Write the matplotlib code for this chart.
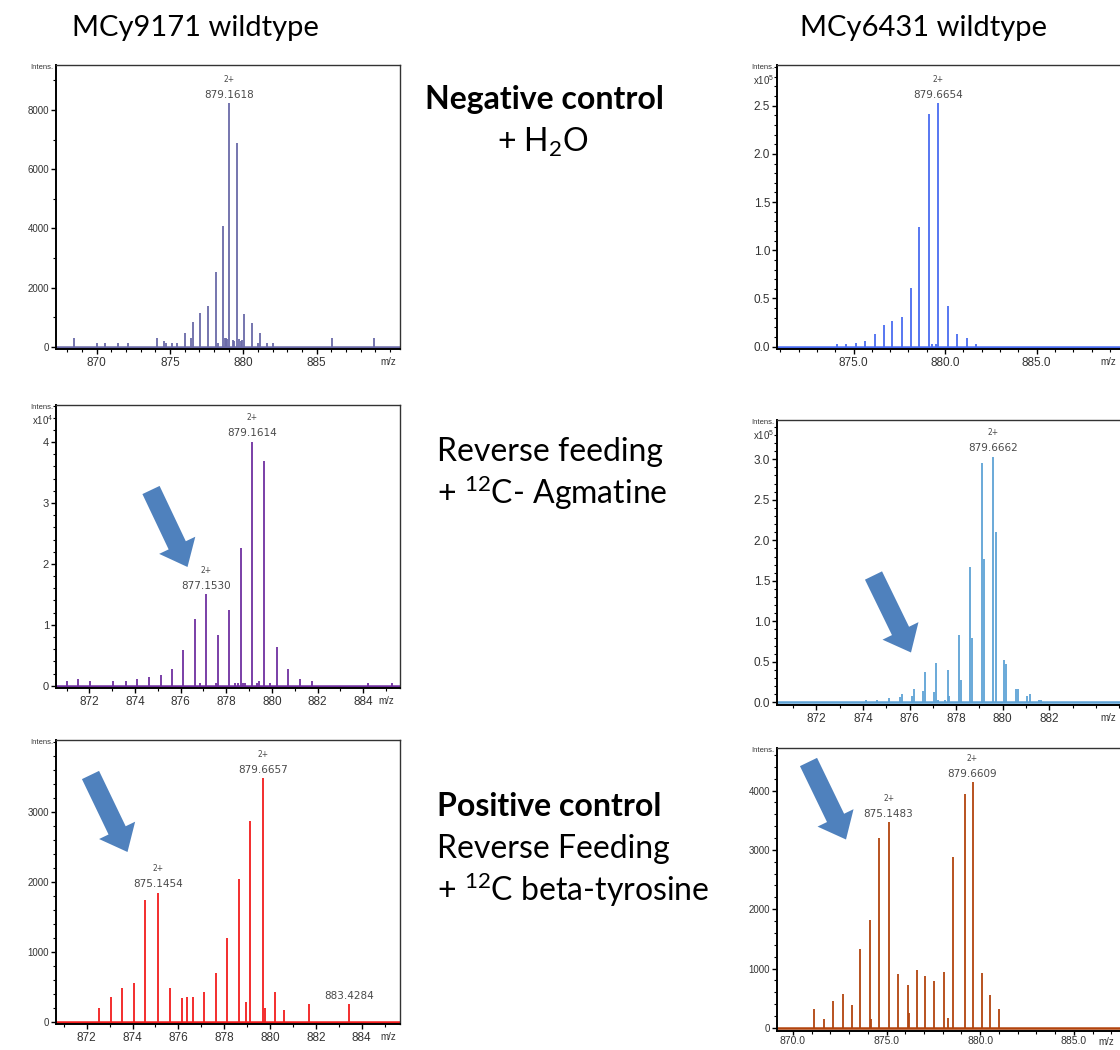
"""
Six mass spectra (two strains x three feeding conditions) with
condition labels in the middle column and blue arrows on the new peaks.
"""

import numpy as np
import matplotlib
matplotlib.use("Agg")
import matplotlib.pyplot as plt
from matplotlib.ticker import MultipleLocator, FormatStrFormatter
from matplotlib.patches import FancyArrow


# =========================
# Data
# =========================

# MCy9171 wildtype, negative control (intensity)
p1_mz = [868.48, 870.05, 870.59, 871.48, 872.11, 874.09, 874.59, 874.70, 875.11,
         875.50, 876.02, 876.41, 876.55, 877.07, 877.61, 878.14, 878.25, 878.64,
         878.72, 878.80, 878.92, 879.05, 879.28, 879.38, 879.55, 879.72, 879.82,
         879.92, 880.07, 880.59, 881.00, 881.11, 881.64, 882.05, 886.07, 888.93]
p1_int = [280, 135, 135, 135, 135, 280, 200, 130, 135,
          135, 475, 280, 845, 1130, 1375, 2540, 135, 4090,
          280, 280, 250, 8230, 220, 200, 6880, 250, 200,
          220, 1100, 790, 135, 475, 135, 135, 280, 280]

# MCy6431 wildtype, negative control (intensity x 10^5)
p2_mz = [874.09, 874.60, 875.13, 875.65, 876.18, 876.69, 877.11, 877.64, 878.16,
         878.58, 879.11, 879.31, 879.53, 879.64, 880.15, 880.67, 881.18, 881.71]
p2_int = [0.024, 0.024, 0.041, 0.062, 0.128, 0.225, 0.266, 0.304, 0.605,
          1.238, 2.41, 0.024, 0.024, 2.524, 0.422, 0.128, 0.086, 0.024]

# MCy9171 wildtype, reverse feeding 12C-agmatine (intensity x 10^4)
p3_mz = [871.01, 871.52, 872.03, 873.02, 873.60, 874.10, 874.61, 875.12, 875.60,
         876.12, 876.61, 876.86, 877.11, 877.55, 877.62, 878.13, 878.38, 878.52,
         878.63, 878.75, 878.83, 879.14, 879.33, 879.45, 879.65, 879.90, 880.20,
         880.72, 881.23, 881.74, 884.22, 885.24]
p3_int = [0.077, 0.11, 0.077, 0.077, 0.077, 0.11, 0.15, 0.175, 0.27,
          0.59, 1.09, 0.05, 1.50, 0.05, 0.83, 1.24, 0.05, 0.05,
          2.26, 0.05, 0.05, 4.01, 0.05, 0.08, 3.69, 0.05, 0.64,
          0.27, 0.115, 0.077, 0.04, 0.04]

# MCy6431 wildtype, reverse feeding 12C-agmatine (intensity x 10^5)
p4_mz = [874.11, 874.60, 875.10, 875.60, 875.67, 876.09, 876.17, 876.57, 876.66,
         877.06, 877.14, 877.24, 877.53, 877.63, 877.71, 878.11, 878.20, 878.60,
         878.70, 879.10, 879.20, 879.60, 879.69, 880.06, 880.14, 880.57, 880.66,
         881.06, 881.16, 881.57, 881.66]
p4_int = [0.025, 0.025, 0.05, 0.06, 0.10, 0.08, 0.17, 0.14, 0.38,
          0.13, 0.48, 0.03, 0.03, 0.40, 0.08, 0.83, 0.27, 1.67,
          0.80, 2.96, 1.77, 3.03, 2.10, 0.52, 0.47, 0.17, 0.17,
          0.08, 0.10, 0.03, 0.03]

# MCy9171 wildtype, positive control 12C beta-tyrosine (intensity)
p5_mz = [872.55, 873.05, 873.56, 874.05, 874.56, 875.13, 875.64, 876.15, 876.39,
         876.63, 877.13, 877.63, 878.14, 878.63, 878.97, 879.13, 879.71, 879.80,
         880.22, 880.63, 881.72, 883.46]
p5_int = [200, 357, 476, 557, 1738, 1843, 476, 333, 357,
          357, 419, 690, 1190, 2033, 286, 2871, 3476, 200,
          419, 167, 248, 248]

# MCy6431 wildtype, positive control 12C beta-tyrosine (intensity)
p6_mz = [871.14, 871.64, 872.15, 872.67, 873.17, 873.58, 874.09, 874.18, 874.59,
         875.11, 875.62, 876.12, 876.21, 876.64, 877.05, 877.54, 878.06, 878.27,
         878.56, 879.18, 879.59, 880.11, 880.50, 881.03]
p6_int = [327, 158, 456, 580, 394, 1330, 1820, 158, 3200,
          3465, 907, 721, 259, 975, 879, 789, 947, 169,
          2879, 3949, 4141, 930, 563, 327]

# Annotated peaks: (label m/z, charge text)
p1_labels = [("879.1618", "2+")]
p2_labels = [("879.6654", "2+")]
p3_labels = [("879.1614", "2+"), ("877.1530", "2+")]
p4_labels = [("879.6662", "2+")]
p5_labels = [("879.6657", "2+"), ("875.1454", "2+"), ("883.4284", "")]
p6_labels = [("879.6609", "2+"), ("875.1483", "2+")]

column_titles = ["MCy9171 wildtype", "MCy6431 wildtype"]


# =========================
# Layout helpers
# =========================

FIG_W = 1120
FIG_H = 1050

TICK_COLOR = "#333333"
LABEL_COLOR = "#4a4a4a"
ARROW_COLOR = "#4f81bd"

plt.rcParams["font.family"] = ["Liberation Sans", "DejaVu Sans"]
plt.rcParams["mathtext.default"] = "regular"


def px_rect(left, top, right, bottom):
    """Pixel box -> figure-fraction rect."""
    return [left / FIG_W, 1 - bottom / FIG_H, (right - left) / FIG_W, (bottom - top) / FIG_H]


def draw_spectrum(fig, rect, mz, inten, color, xlim, ylim, xmajor, xminor,
                  ymajor, yminor, xfmt, yfmt, labels, scale_text, mz_pos,
                  ysize=7, xsize=8.5, xpad=2, xlen=3.5):
    ax = fig.add_axes(rect)
    mz = np.asarray(mz)
    inten = np.asarray(inten)

    ax.vlines(mz, 0, inten, color=color, lw=1.3)
    ax.axhline(0, color=color, lw=1.8)

    ax.set_xlim(*xlim)
    ax.set_ylim(*ylim)

    ax.set_xticks(xmajor)
    ax.xaxis.set_minor_locator(MultipleLocator(xminor))
    ax.set_yticks(ymajor)
    ax.yaxis.set_minor_locator(MultipleLocator(yminor))
    ax.xaxis.set_major_formatter(FormatStrFormatter(xfmt))
    ax.yaxis.set_major_formatter(FormatStrFormatter(yfmt))

    ax.tick_params(axis="both", which="major", length=3.5, width=1,
                   colors="black", labelcolor=TICK_COLOR, pad=1.5)
    ax.tick_params(axis="both", which="minor", length=2.5, width=0.8)
    ax.tick_params(axis="x", which="major", labelsize=xsize, pad=xpad, length=xlen)
    ax.tick_params(axis="y", labelsize=ysize)

    for side in ["left", "bottom"]:
        ax.spines[side].set_linewidth(1.4)
        ax.spines[side].set_color("black")
    for side in ["top", "right"]:
        ax.spines[side].set_linewidth(1.0)
        ax.spines[side].set_color("#333333")

    # Peak annotations
    for text, charge in labels:
        target = float(text)
        near = np.abs(mz - target) < 0.3
        idx = np.where(near)[0][np.argmax(inten[near])]
        ax.annotate(text, (mz[idx], inten[idx]), xytext=(0, 2.5),
                    textcoords="offset points", ha="center", va="bottom",
                    fontsize=7.5, color=LABEL_COLOR, family="DejaVu Sans")
        if charge:
            ax.annotate(charge, (mz[idx], inten[idx]), xytext=(0, 14),
                        textcoords="offset points", ha="center", va="bottom",
                        fontsize=5.5, color=LABEL_COLOR, family="DejaVu Sans")

    # Bruker style axis captions
    ax.annotate("Intens.", (0, 1), xycoords="axes fraction", xytext=(-2, -2),
                textcoords="offset points", ha="right", va="center",
                fontsize=5.5, color=TICK_COLOR)
    if scale_text:
        ax.annotate(scale_text, (0, 1), xycoords="axes fraction", xytext=(-2, -11),
                    textcoords="offset points", ha="right", va="center",
                    fontsize=7, color=TICK_COLOR)
    ax.annotate("m/z", (mz_pos, 0), xycoords="axes fraction",
                xytext=(0, -(xlen + xpad + 0.5)),
                textcoords="offset points", ha="center", va="top",
                fontsize=7, color=TICK_COLOR)
    return ax


def main():
    fig = plt.figure(figsize=(FIG_W / 100, FIG_H / 100), dpi=100, facecolor="white")

    # Left column: MCy9171
    draw_spectrum(fig, px_rect(56, 65, 400, 349), p1_mz, p1_int, "#6a6aa8",
                  (867.23, 890.68), (-78, 9521), [870, 875, 880, 885], 1,
                  [0, 2000, 4000, 6000, 8000], 1000, "%d", "%d",
                  p1_labels, "", 0.965)
    draw_spectrum(fig, px_rect(56, 405, 400, 688), p3_mz, p3_int, "#7030a0",
                  (870.54, 885.61), (-0.038, 4.61), [872, 874, 876, 878, 880, 882, 884], 1,
                  [0, 1, 2, 3, 4], 0.2, "%d", "%d",
                  p3_labels, "x10$^4$", 0.961, ysize=8)
    draw_spectrum(fig, px_rect(56, 740, 400, 1024), p5_mz, p5_int, "#f21d1d",
                  (870.66, 885.67), (-33, 4024), [872, 874, 876, 878, 880, 882, 884], 1,
                  [0, 1000, 2000, 3000], 200, "%d", "%d",
                  p5_labels, "", 0.965)

    # Right column: MCy6431 (boxes run past the right edge)
    draw_spectrum(fig, px_rect(777, 65, 1130, 349), p2_mz, p2_int, "#4a6cf0",
                  (870.82, 890.1), (-0.024, 2.922), [875, 880, 885], 1,
                  [0, 0.5, 1.0, 1.5, 2.0, 2.5], 0.1, "%.1f", "%.1f",
                  p2_labels, "x10$^5$", 0.938, ysize=8.5)
    draw_spectrum(fig, px_rect(777, 420, 1130, 705), p4_mz, p4_int, "#5ea3d6",
                  (870.31, 885.46), (-0.033, 3.485), [872, 874, 876, 878, 880, 882], 1,
                  [0, 0.5, 1.0, 1.5, 2.0, 2.5, 3.0], 0.1, "%d", "%.1f",
                  p4_labels, "x10$^5$", 0.938, ysize=8.5)
    draw_spectrum(fig, px_rect(777, 748, 1130, 1031), p6_mz, p6_int, "#b2440e",
                  (869.15, 888.0), (-51, 4716), [870, 875, 880, 885], 1,
                  [0, 1000, 2000, 3000, 4000], 200, "%.1f", "%d",
                  p6_labels, "", 0.934, xsize=7.5, xpad=0.8, xlen=3)

    # Column titles
    text_font = ["Lato", "DejaVu Sans"]
    fig.text(195 / FIG_W, 1 - 28 / FIG_H, column_titles[0], ha="center", va="center",
             fontsize=21, family=text_font)
    fig.text(924 / FIG_W, 1 - 28 / FIG_H, column_titles[1], ha="center", va="center",
             fontsize=21, family=text_font)

    # Condition labels
    def cond(x, y, s, bold=False):
        fig.text(x / FIG_W, 1 - y / FIG_H, s, ha="left", va="center", fontsize=23,
                 family=text_font, fontweight="bold" if bold else "normal")

    cond(425, 100, "Negative control", bold=True)
    cond(497, 142, "+ H$_2$O")
    cond(437, 452, "Reverse feeding")
    cond(437, 493, "+ $^{12}$C- Agmatine")
    cond(437, 806, "Positive control", bold=True)
    cond(437, 849, "Reverse Feeding")
    cond(437, 890, "+ $^{12}$C beta-tyrosine")

    # Blue arrows drawn in pixel space on a transparent overlay
    over = fig.add_axes([0, 0, 1, 1])
    over.set_xlim(0, FIG_W)
    over.set_ylim(FIG_H, 0)
    over.axis("off")
    arrows = [((151.0, 490.0), (187.5, 567.0)),
              ((873.5, 575.5), (911.0, 652.5)),
              ((90.5, 775.0), (127.5, 852.0)),
              ((808.5, 762.0), (846.0, 839.5))]
    for (x0, y0), (x1, y1) in arrows:
        over.add_patch(FancyArrow(x0, y0, x1 - x0, y1 - y0, width=19,
                                  head_width=40, head_length=24,
                                  length_includes_head=True,
                                  color=ARROW_COLOR, lw=0))

    fig.savefig("out.png", dpi=100)
    plt.close(fig)


if __name__ == "__main__":
    main()
